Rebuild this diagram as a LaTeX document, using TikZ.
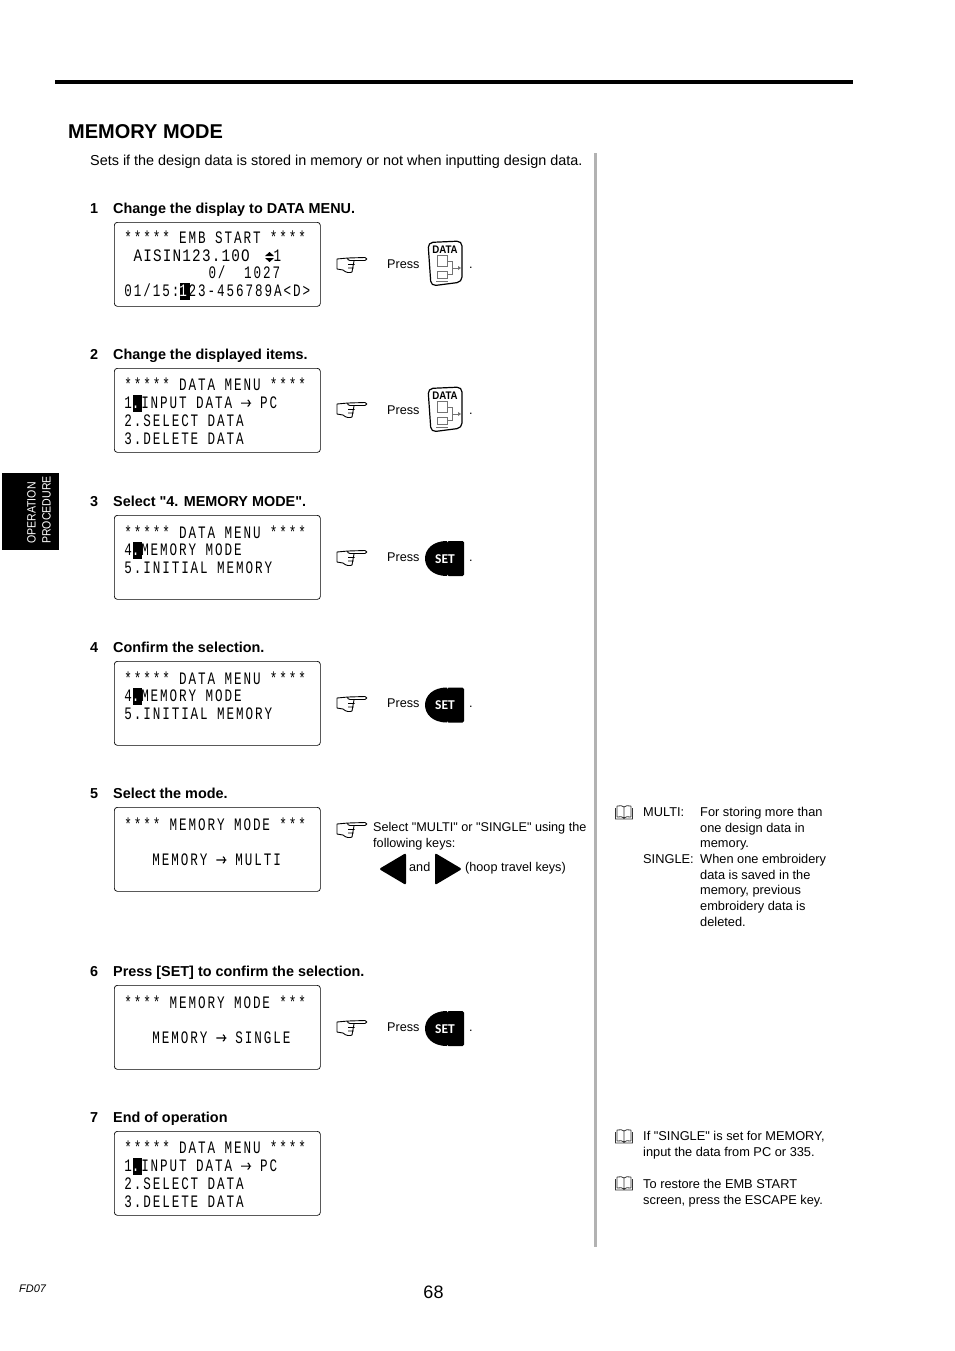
\documentclass[tikz,border=0pt]{standalone}
\usepackage{fontspec}
\setmainfont[Ligatures=TeXOff]{Liberation Sans}
\newfontfamily\lcdfamily[FakeStretch=0.72,LetterSpace=11]{Liberation Mono}
\newfontfamily\lcdwidefamily[FakeStretch=0.82,LetterSpace=6.6]{Liberation Mono}
\newfontfamily\keyfamily{Carlito}
\newfontfamily\tabfamily[FakeStretch=0.88,Ligatures=TeXOff]{Liberation Sans}
\usetikzlibrary{positioning,shapes,arrows}
\newcommand{\lcdcur}[1]{\makebox[9.35pt][l]{\rlap{\kern0.6pt\raisebox{-3pt}{\rule{9.6pt}{16.5pt}}}\textcolor{white}{#1}}}
\newcommand{\lcdarrow}{\makebox[9.35pt]{\tikz[x=1pt,y=1pt,baseline=0pt]{\draw[line width=1.1pt] (0,5.5) -- (10,5.5) (6.5,8.8) -- (10,5.5) -- (6.5,2.2);}}}
\tikzset{
	lcdbox/.style={draw,line width=0.7pt,rounded corners=3pt,anchor=north west,minimum width=206pt,minimum height=84pt,text width=186pt,inner xsep=9.6pt,inner ysep=0pt,align=flush left,execute at begin node={\rule{0pt}{14.5pt}},font=\fontsize{17.5}{17.7}\selectfont\lcdfamily\frenchspacing\spaceskip9.35pt\relax},
	bodytext/.style={anchor=base west,inner sep=0pt,font=\fontsize{14.4}{17}\selectfont},
	steptext/.style={anchor=base west,inner sep=0pt,font=\fontsize{14.4}{17}\selectfont\bfseries},
	smalltext/.style={anchor=base west,inner sep=0pt,font=\fontsize{12.65}{15.7}\selectfont},
	notetext/.style={anchor=north west,inner sep=0pt,align=left,font=\fontsize{12.8}{15.7}\selectfont},
	pics/hand/.style={code={
		\draw[line width=0.9pt,line join=round] (11,1) -- (0,2) -- (0,12) -- (6,13) .. controls (9,16) and (13,16) .. (15,15) -- (17,4)
			(11,1) -- (28,0.5) .. controls (30.5,0.5) and (30.5,3.5) .. (28,3.5) -- (13,3.5) .. controls (11,3.5) and (10,2) .. (11,1)
			(11,7.5) -- (17.5,7.5) (11,11) -- (16.5,11);
	}},
	pics/datakey/.style={code={
		\draw[line width=1.2pt,rounded corners=5pt] (0,1.5) -- (34,0) -- (34,41) -- (3,45) -- cycle;
		\node[inner sep=0pt,font=\fontsize{11}{12}\selectfont\tabfamily\bfseries] (-label) at (17,8.5) {DATA};
		\draw[black!55,line width=0.9pt] (9,14) rectangle (19,25) (9,30) rectangle (19,37) (8,40) -- (20,40)
			(19,20) -- (24,20) -- (24,33) -- (19,33) (24,27) -- (30,27);
		\fill[black!55] (30,25) -- (33,27) -- (30,29) -- cycle;
	}},
	pics/setkey/.style={code={
		\fill[rounded corners=1.5pt] (39,0) -- (39,35) -- (22,35) -- (22,0) -- cycle;
		\fill (22,35) .. controls (7,35) and (0,26) .. (0,17.5) .. controls (0,9) and (7,0) .. (22,0) -- cycle;
		\node[white,inner sep=0pt,font=\fontsize{13.5}{15}\selectfont\keyfamily\bfseries] (-label) at (20,18) {SET};
	}},
	pics/bookmark/.style={code={
		\draw[line width=0.8pt,black!80] (2,1) -- (2,12) (9,2) -- (9,13) (16,1) -- (16,12)
			(2,1) .. controls (5,0) and (8,1) .. (9,2) .. controls (10,1) and (13,0) .. (16,1)
			(2,12) .. controls (5,11) and (8,12) .. (9,13) .. controls (10,12) and (13,11) .. (16,12)
			(0.5,3) -- (0.5,14) -- (17.5,14) -- (17.5,3);
	}}
}
\begin{document}
\begin{tikzpicture}[x=1pt,y=-1pt]
	\useasboundingbox (0,0) rectangle (954,1351);
	% page furniture
	\fill (55,80) rectangle (853,84);
	\fill[black!30] (594,153) rectangle (597,1247);
	\fill (2,473) rectangle (59,550);
	\node[white,rotate=90,inner sep=0pt,align=left,font=\fontsize{12}{15}\selectfont\tabfamily] (tab) at (39,510) {OPERATION\\PROCEDURE};
	\node[anchor=base west,inner sep=0pt,font=\fontsize{20}{24}\selectfont\bfseries] (title) at (68,138.5) {MEMORY MODE};
	\node[bodytext] (intro) at (90,165.5) {Sets if the design data is stored in memory or not when inputting design data.};
	\node[anchor=base west,inner sep=0pt,font=\fontsize{11}{13}\selectfont\rmfamily\itshape] (code) at (19,1292) {FD07};
	\node[anchor=base,inner sep=0pt,font=\fontsize{18}{20}\selectfont] (page) at (433.5,1298) {68};
	% steps
	\begin{scope}[every node/.style={steptext}]
		\node (n1) at (90,213) {1};
		\node (s1) at (113,213) {Change the display to DATA MENU.};
		\node (n2) at (90,359) {2};
		\node (s2) at (113,359) {Change the displayed items.};
		\node (n3) at (90,506) {3};
		\node (s3) at (113,506) {Select "4. MEMORY MODE".};
		\node (n4) at (90,652) {4};
		\node (s4) at (113,652) {Confirm the selection.};
		\node (n5) at (90,798) {5};
		\node (s5) at (113,798) {Select the mode.};
		\node (n6) at (90,976) {6};
		\node (s6) at (113,976) {Press [SET] to confirm the selection.};
		\node (n7) at (90,1122) {7};
		\node (s7) at (113,1122) {End of operation};
	\end{scope}
	% screens
	\begin{scope}[every node/.style={lcdbox}]
		\node (lcd1) at (114,222) {***** EMB START ****\\\hspace*{9.3pt}{\lcdwidefamily AISIN123.10O}\hspace*{24pt}1\\~~~~~~~~~0/~~1027\\01/15:\lcdcur{1}23-456789A<D>};
		\node (lcd2) at (114,368) {***** DATA MENU ****\\1\lcdcur{.}INPUT DATA \lcdarrow{} PC\\2.SELECT DATA\\3.DELETE DATA};
		\node (lcd3) at (114,515) {***** DATA MENU ****\\4\lcdcur{.}MEMORY MODE\\5.INITIAL MEMORY\\~};
		\node (lcd4) at (114,661) {***** DATA MENU ****\\4\lcdcur{.}MEMORY MODE\\5.INITIAL MEMORY\\~};
		\node (lcd5) at (114,807) {**** MEMORY MODE ***\\~\\~~~MEMORY \lcdarrow{} MULTI\\~};
		\node (lcd6) at (114,985) {**** MEMORY MODE ***\\~\\~~~MEMORY \lcdarrow{} SINGLE\\~};
		\node (lcd7) at (114,1131) {***** DATA MENU ****\\1\lcdcur{.}INPUT DATA \lcdarrow{} PC\\2.SELECT DATA\\3.DELETE DATA};
	\end{scope}
	\fill (265,256) -- (269.5,252) -- (274,256) -- cycle (265,258) -- (269.5,262) -- (274,258) -- cycle;
	% press hints
	\pic at (337,257) {hand};
	\pic at (337,402) {hand};
	\pic at (337,550) {hand};
	\pic at (337,696) {hand};
	\pic at (337,822) {hand};
	\pic at (337,1020) {hand};
	\begin{scope}[every node/.style={smalltext}]
		\node (p1) at (387,268) {Press};
		\node (p2) at (387,414) {Press};
		\node (p3) at (387,561) {Press};
		\node (p4) at (387,707) {Press};
		\node (p6) at (387,1031) {Press};
		\node (d1) at (469,268) {.};
		\node (d2) at (469,414) {.};
		\node (d3) at (469,561) {.};
		\node (d4) at (469,707) {.};
		\node (d6) at (469,1031) {.};
		\node (sel1) at (373,831) {Select "MULTI" or "SINGLE" using the};
		\node (sel2) at (373,847) {following keys:};
		\node (and) at (409,871) {and};
		\node (hoop) at (465,871) {(hoop travel keys)};
	\end{scope}
	\pic (key1) at (428,241) {datakey};
	\pic (key2) at (428,387) {datakey};
	\pic (key3) at (425,541) {setkey};
	\pic (key4) at (425,687.5) {setkey};
	\pic (key6) at (425,1011) {setkey};
	\fill[rounded corners=2pt] (379,869) -- (406,853) -- (406,885) -- cycle;
	\fill[rounded corners=2pt] (462,869) -- (435,853) -- (435,885) -- cycle;
	% notes
	\pic at (615,805) {bookmark};
	\pic at (615,1129) {bookmark};
	\pic at (615,1176) {bookmark};
	\begin{scope}[every node/.style={notetext}]
		\node (m1) at (643,807) {MULTI:};
		\node (m2) at (700,807) {For storing more than\\one design data in\\memory.};
		\node (m3) at (643,854) {SINGLE:};
		\node (m4) at (700,854) {When one embroidery\\data is saved in the\\memory, previous\\embroidery data is\\deleted.};
		\node (m5) at (643,1131) {If "SINGLE" is set for MEMORY,\\input the data from PC or 335.};
		\node (m6) at (643,1179) {To restore the EMB START\\screen, press the ESCAPE key.};
	\end{scope}
\end{tikzpicture}
\end{document}
